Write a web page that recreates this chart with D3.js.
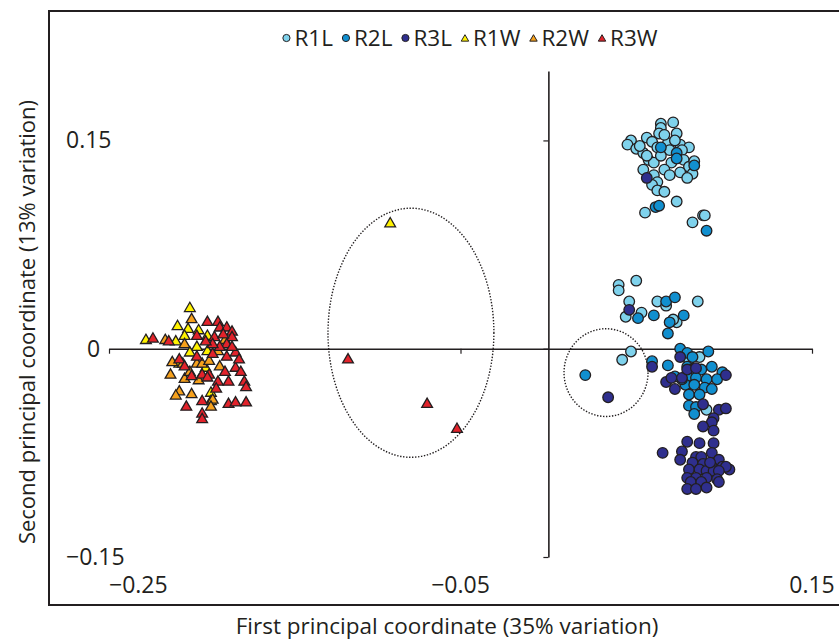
<!DOCTYPE html>
<html>
<head>
<meta charset="utf-8">
<script src="https://cdn.jsdelivr.net/npm/d3@7"></script>
<style>
  body { margin: 0; background: #fff; }
  svg { display: block; font-family: "Open Sans", Lato, sans-serif; }
</style>
</head>
<body>
<div id="chart"></div>
<script>
// series names and legend order
const seriesNames = ['R1L', 'R2L', 'R3L', 'R1W', 'R2W', 'R3W'];
const seriesShapes = ['circle', 'circle', 'circle', 'triangle', 'triangle', 'triangle'];
const seriesColors = ['#7fd2ec', '#118fcf', '#2f2f8e', '#fff200', '#f6a11c', '#e2232b'];

const xTicks = [-0.25, -0.05, 0.15];
const yTicks = [-0.15, 0, 0.15];

// [PCo1, PCo2]
const r1l = [
  [0.071, 0.163], [0.064, 0.162], [0.064, 0.159], [0.073, 0.155], [0.063, 0.155], [0.056, 0.152],
  [0.047, 0.150], [0.045, 0.147], [0.050, 0.144], [0.054, 0.141], [0.059, 0.149], [0.068, 0.148],
  [0.075, 0.147], [0.080, 0.145], [0.069, 0.143], [0.076, 0.143], [0.062, 0.145], [0.057, 0.136],
  [0.060, 0.134], [0.070, 0.134], [0.077, 0.136], [0.080, 0.131], [0.075, 0.127], [0.066, 0.129],
  [0.054, 0.129], [0.060, 0.125], [0.069, 0.125], [0.082, 0.126], [0.062, 0.120], [0.059, 0.118],
  [0.062, 0.114], [0.066, 0.113], [0.073, 0.106], [0.055, 0.098], [0.082, 0.091], [0.088, 0.096],
  [0.089, 0.096], [0.052, 0.146], [0.064, 0.139], [0.056, 0.139], [0.072, 0.150], [0.066, 0.154],
  [0.083, 0.135], [0.079, 0.123],
  [0.040, 0.046], [0.040, 0.042], [0.050, 0.049], [0.046, 0.034], [0.044, 0.023], [0.053, 0.026],
  [0.062, 0.034], [0.067, 0.031], [0.073, 0.019], [0.085, 0.034], [0.047, -0.002], [0.042, -0.008],
  [0.086, -0.006], [0.090, -0.044], [0.071, 0.021], [0.080, -0.008]
];
const r2l = [
  [0.064, 0.145], [0.073, 0.141], [0.073, 0.137], [0.083, 0.132], [0.061, 0.102], [0.090, 0.085],
  [0.063, 0.103],
  [0.067, 0.034], [0.072, 0.037], [0.051, 0.022], [0.060, 0.024], [0.069, 0.019], [0.077, 0.024],
  [0.068, 0.011], [0.021, -0.019], [0.059, -0.009], [0.068, -0.012], [0.075, 0.000], [0.079, -0.003],
  [0.082, -0.006], [0.091, -0.002], [0.079, -0.013], [0.081, -0.015], [0.087, -0.015], [0.093, -0.013],
  [0.099, -0.017], [0.079, -0.020], [0.084, -0.021], [0.090, -0.022], [0.096, -0.022], [0.078, -0.026],
  [0.083, -0.026], [0.089, -0.028], [0.093, -0.029], [0.080, -0.033], [0.086, -0.033], [0.080, -0.041],
  [0.084, -0.042], [0.083, -0.047], [0.076, -0.022], [0.072, -0.020]
];
const r3l = [
  [0.056, 0.123], [0.046, 0.028], [0.034, -0.035], [0.059, -0.013], [0.067, -0.024], [0.072, -0.029],
  [0.070, -0.021], [0.076, -0.021], [0.079, -0.015], [0.084, -0.014], [0.075, -0.006], [0.101, -0.019],
  [0.088, -0.040], [0.097, -0.044], [0.101, -0.043], [0.094, -0.050], [0.093, -0.053], [0.088, -0.056],
  [0.094, -0.059], [0.079, -0.067], [0.086, -0.068], [0.094, -0.068], [0.065, -0.075], [0.076, -0.074],
  [0.075, -0.080], [0.084, -0.078], [0.087, -0.078], [0.093, -0.075], [0.097, -0.080], [0.082, -0.082],
  [0.088, -0.083], [0.093, -0.085], [0.099, -0.085], [0.103, -0.087], [0.101, -0.085], [0.080, -0.087],
  [0.086, -0.087], [0.090, -0.088], [0.094, -0.088], [0.097, -0.088], [0.079, -0.093], [0.084, -0.093],
  [0.090, -0.093], [0.096, -0.094], [0.081, -0.096], [0.087, -0.096], [0.079, -0.101], [0.084, -0.101],
  [0.090, -0.100], [0.097, -0.096], [0.092, -0.082]
];
const r1w = [
  [-0.204, 0.029], [-0.211, 0.016], [-0.205, 0.014], [-0.199, 0.013], [-0.229, 0.006], [-0.194, 0.009],
  [-0.212, 0.005], [-0.200, 0.001], [-0.204, -0.003], [-0.194, -0.002], [-0.192, -0.032], [-0.210, -0.011],
  [-0.195, -0.014], [-0.192, -0.038], [-0.207, 0.009], [-0.090, 0.090]
];
const r2w = [
  [-0.203, 0.021], [-0.214, -0.010], [-0.215, -0.019], [-0.207, -0.022], [-0.210, -0.031], [-0.212, -0.034],
  [-0.203, -0.033], [-0.200, -0.011], [-0.197, -0.011], [-0.191, -0.037], [-0.192, -0.042], [-0.187, -0.013],
  [-0.184, 0.006], [-0.207, 0.003], [-0.188, -0.002], [-0.199, -0.023], [-0.193, -0.009], [-0.208, -0.011],
  [-0.218, 0.006], [-0.204, -0.017]
];
const r3w = [
  [-0.225, 0.007], [-0.194, 0.019], [-0.188, 0.019], [-0.187, 0.015], [-0.183, 0.015], [-0.180, 0.012],
  [-0.180, 0.008], [-0.200, 0.009], [-0.216, 0.005], [-0.190, 0.008], [-0.183, 0.003], [-0.178, -0.003],
  [-0.180, 0.001], [-0.187, 0.001], [-0.210, -0.008], [-0.200, -0.006], [-0.191, -0.004], [-0.183, -0.006],
  [-0.178, -0.014], [-0.175, -0.017], [-0.182, -0.024], [-0.173, -0.024], [-0.172, -0.028], [-0.193, -0.019],
  [-0.188, -0.024], [-0.203, -0.020], [-0.207, -0.013], [-0.197, -0.019], [-0.189, -0.029], [-0.197, -0.038],
  [-0.182, -0.040], [-0.178, -0.039], [-0.172, -0.039], [-0.206, -0.042], [-0.197, -0.047], [-0.197, -0.051],
  [-0.194, -0.021], [-0.184, -0.017], [-0.191, 0.003], [-0.195, 0.005], [-0.185, 0.010], [-0.176, -0.008],
  [-0.114, -0.008], [-0.069, -0.040], [-0.052, -0.058]
];

// dotted outlines: [cx, cy, rx, ry] in data units
const outlines = [
  [-0.0782, 0.0115, 0.0472, 0.0897],
  [0.0328, -0.0172, 0.0239, 0.0316]
];

const seriesData = [r1l, r2l, r3l, r1w, r2w, r3w];

const width = 839, height = 642;
const ink = '#231f20';

const svg = d3.select('#chart').append('svg')
  .attr('width', width)
  .attr('height', height);

const x = d3.scaleLinear().domain([-0.25, 0.15]).range([109, 812]);
const y = d3.scaleLinear().domain([-0.15, 0.2]).range([557, 71]);

// outer frame
svg.append('rect')
  .attr('x', 49).attr('y', 11)
  .attr('width', 800).attr('height', 594)
  .attr('fill', 'none')
  .attr('stroke', ink)
  .attr('stroke-width', 2);

// horizontal axis through y = 0
const xAxis = svg.append('g')
  .attr('transform', `translate(0,${y(0)})`)
  .call(d3.axisBottom(x).tickValues(xTicks).tickSize(5).tickSizeOuter(0).tickFormat(''));
xAxis.select('.domain').attr('stroke', ink).attr('stroke-width', 1.6);
xAxis.selectAll('.tick line').attr('stroke', ink).attr('stroke-width', 1.2);

// vertical axis through x = 0
const yAxis = svg.append('g')
  .attr('transform', `translate(${x(0)},0)`)
  .call(d3.axisLeft(y).tickValues(yTicks).tickSize(5).tickSizeOuter(0).tickFormat(''));
yAxis.select('.domain').attr('stroke', ink).attr('stroke-width', 1.6);
yAxis.selectAll('.tick line').attr('stroke', ink).attr('stroke-width', 1.2);

const fmt = d3.format('');

// tick labels sit low, outside the plot
svg.append('g').selectAll('text')
  .data(xTicks)
  .join('text')
  .attr('x', d => x(d))
  .attr('y', 593)
  .attr('text-anchor', (d, i) => i === 0 ? 'start' : 'middle')
  .attr('font-size', 23)
  .attr('fill', ink)
  .text(d => fmt(d));

svg.append('g').selectAll('text')
  .data(yTicks)
  .join('text')
  .attr('x', d => d === 0 ? 87 : 66)
  .attr('y', d => y(d) + 8)
  .attr('font-size', 23)
  .attr('fill', ink)
  .text(d => fmt(d));

// axis titles
svg.append('text')
  .attr('x', 447).attr('y', 634)
  .attr('text-anchor', 'middle')
  .attr('font-size', 22.5)
  .attr('fill', ink)
  .text('First principal coordinate (35% variation)');

svg.append('text')
  .attr('transform', 'translate(35,322) rotate(-90)')
  .attr('text-anchor', 'middle')
  .attr('font-size', 22)
  .attr('fill', ink)
  .text('Second principal coordinate (13% variation)');

// dotted group outlines
svg.append('g').selectAll('ellipse')
  .data(outlines)
  .join('ellipse')
  .attr('cx', d => x(d[0]))
  .attr('cy', d => y(d[1]))
  .attr('rx', d => x(d[0] + d[2]) - x(d[0]))
  .attr('ry', d => y(d[1] - d[3]) - y(d[1]))
  .attr('fill', 'none')
  .attr('stroke', ink)
  .attr('stroke-width', 1.4)
  .attr('stroke-dasharray', '1.4,1.6');

const circleSym = d3.symbol().type(d3.symbolCircle).size(Math.PI * 5.3 * 5.3);
const triSym = d3.symbol().type(d3.symbolTriangle).size(50);

// points, drawn series by series so the last one sits on top
seriesData.forEach((pts, i) => {
  svg.append('g')
    .attr('class', 'series-' + seriesNames[i])
    .selectAll('path')
    .data(pts)
    .join('path')
    .attr('transform', d => `translate(${x(d[0])},${y(d[1])})`)
    .attr('d', seriesShapes[i] === 'circle' ? circleSym : triSym)
    .attr('fill', seriesColors[i])
    .attr('stroke', ink)
    .attr('stroke-width', 1.3);
});

// legend across the top
const legend = svg.append('g');
const legCircle = d3.symbol().type(d3.symbolCircle).size(Math.PI * 3.6 * 3.6);
const legTri = d3.symbol().type(d3.symbolTriangle).size(24);
let cursor = 0;
seriesNames.forEach((name, i) => {
  const item = legend.append('g').attr('transform', `translate(${cursor},0)`);
  item.append('path')
    .attr('transform', `translate(0,${seriesShapes[i] === 'circle' ? 0 : 1})`)
    .attr('d', seriesShapes[i] === 'circle' ? legCircle : legTri)
    .attr('fill', seriesColors[i])
    .attr('stroke', ink)
    .attr('stroke-width', 1);
  const t = item.append('text')
    .attr('x', 8)
    .attr('y', 8)
    .attr('font-size', 22.5)
    .attr('fill', ink)
    .text(name);
  cursor += 8 + t.node().getComputedTextLength() + 13;
});
const legWidth = cursor - 13;
legend.attr('transform', `translate(${468 - legWidth / 2 + 4},38)`);
</script>
</body>
</html>
